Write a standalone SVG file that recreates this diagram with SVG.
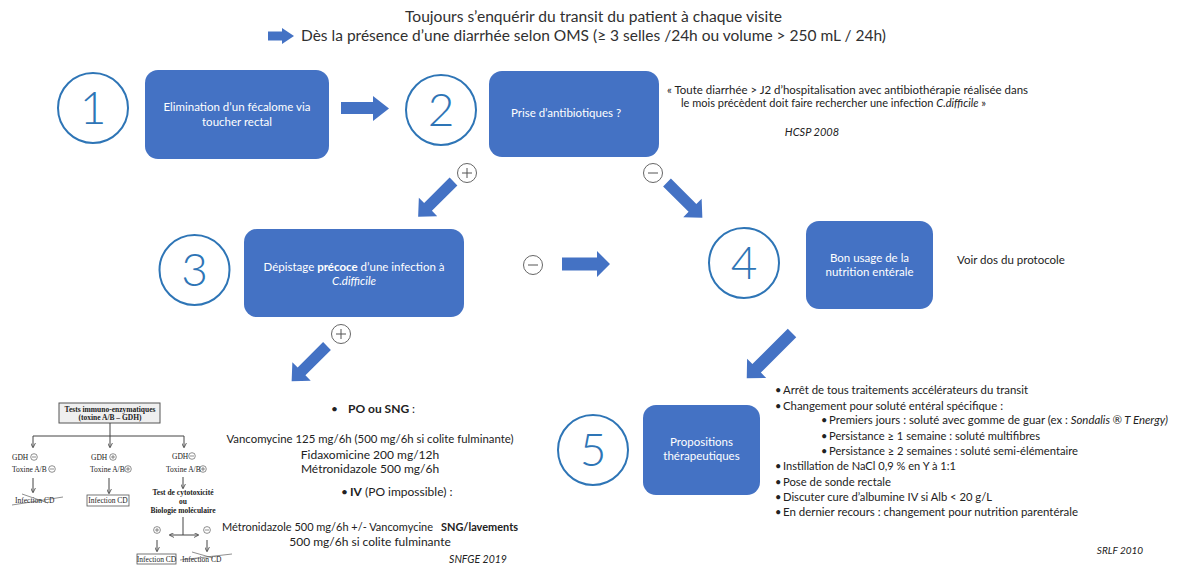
<svg xmlns="http://www.w3.org/2000/svg" width="1177" height="567" viewBox="0 0 1177 567">
<style>
text{font-family:Lato,"Liberation Sans",sans-serif;}
.hdr{font-size:15.5px;fill:#303030;}
.box{fill:#4472C4;}
.bt{font-size:11.5px;fill:#ffffff;text-anchor:middle;}
.ring{fill:none;stroke:#2E75B6;stroke-width:2;}
.num{font-size:46px;fill:#2E75B6;font-weight:300;text-anchor:middle;}
.arr{fill:#4472C4;}
.sign{fill:#ffffff;stroke:#555555;stroke-width:0.9;}
.signl{stroke:#555555;stroke-width:1;}
.t11{font-size:11px;fill:#222222;}
.t12{font-size:12px;fill:#222222;text-anchor:middle;}
.it{font-style:italic;}
.b{font-weight:bold;}
.ser{font-family:"Liberation Serif","Times New Roman",serif;font-size:7.5px;fill:#222222;}
.fl{stroke:#444444;stroke-width:1;fill:none;}
.sc{fill:none;stroke:#444444;stroke-width:0.6;}
</style>
<defs>
<marker id="ah" viewBox="0 0 6 6" refX="5" refY="3" markerWidth="5" markerHeight="5" orient="auto-start-reverse" markerUnits="userSpaceOnUse">
<path d="M0,0 L6,3 L0,6" fill="none" stroke="#444444" stroke-width="1"/>
</marker>
<path id="diag" d="M0,-5.5 H36 V-13 L50,0 L36,13 V5.5 H0 Z"/>
</defs>

<g id="header">
<text class="hdr" x="593.5" y="22" text-anchor="middle" textLength="377" lengthAdjust="spacingAndGlyphs">Toujours s’enquérir du transit du patient à chaque visite</text>
<path class="arr" d="M268,31.5 H282 V28 L294,36 L282,44 V40.5 H268 Z"/>
<text class="hdr" x="301" y="41" textLength="585" lengthAdjust="spacingAndGlyphs">Dès la présence d’une diarrhée selon OMS (≥ 3 selles /24h ou volume &gt; 250 mL / 24h)</text>
</g>

<g id="step1">
<circle class="ring" cx="93" cy="108" r="35"/>
<text class="num" x="93" y="124">1</text>
<rect class="box" x="145" y="70" width="184" height="89" rx="13"/>
<text class="bt" x="237" y="111">Elimination d’un fécalome via</text>
<text class="bt" x="237" y="126">toucher rectal</text>
</g>

<g id="step2">
<circle class="ring" cx="441" cy="110" r="35"/>
<text class="num" x="441" y="126">2</text>
<rect class="box" x="489" y="71" width="170" height="86" rx="13"/>
<text class="bt" x="566" y="117">Prise d’antibiotiques ?</text>
</g>

<g id="quote">
<text class="t11" x="667" y="94" textLength="361" lengthAdjust="spacingAndGlyphs">« Toute diarrhée &gt; J2 d’hospitalisation avec antibiothérapie réalisée dans</text>
<text class="t11" x="681" y="107" textLength="305" lengthAdjust="spacingAndGlyphs">le mois précèdent doit faire rechercher une infection <tspan class="it">C.difficile</tspan> »</text>
<text class="t11 it" x="812" y="136" text-anchor="middle">HCSP 2008</text>
</g>

<g id="step3">
<circle class="ring" cx="194.5" cy="270" r="35"/>
<text class="num" x="194.5" y="286">3</text>
<rect class="box" x="244" y="229" width="220" height="88" rx="13"/>
<text class="bt" x="354" y="271">Dépistage <tspan class="b">précoce</tspan> d’une infection à</text>
<text class="bt it" x="354" y="285">C.difficile</text>
</g>

<g id="step4">
<circle class="ring" cx="744" cy="263" r="35"/>
<text class="num" x="744" y="279">4</text>
<rect class="box" x="806" y="221" width="127" height="88" rx="13"/>
<text class="bt" x="869.5" y="262">Bon usage de la</text>
<text class="bt" x="869.5" y="276">nutrition entérale</text>
<text class="t11" x="957" y="264" style="font-size:11.5px">Voir dos du protocole</text>
</g>

<g id="step5">
<circle class="ring" cx="593" cy="450" r="35"/>
<text class="num" x="593" y="466">5</text>
<rect class="box" x="643" y="405" width="117" height="90" rx="13"/>
<text class="bt" x="701.5" y="446">Propositions</text>
<text class="bt" x="701.5" y="460">thérapeutiques</text>
</g>

<g id="treatments">
<text class="t11" x="775" y="394">•</text>
<text class="t11" x="783" y="394" textLength="245" lengthAdjust="spacingAndGlyphs">Arrêt de tous traitements accélérateurs du transit</text>
<text class="t11" x="775" y="410">•</text>
<text class="t11" x="783" y="410" textLength="220" lengthAdjust="spacingAndGlyphs">Changement pour soluté entéral spécifique :</text>
<text class="t11" x="821" y="424">•</text>
<text class="t11" x="829" y="424" textLength="339" lengthAdjust="spacingAndGlyphs">Premiers jours : soluté avec gomme de guar (ex : <tspan class="it">Sondalis ® T Energy)</tspan></text>
<text class="t11" x="821" y="440">•</text>
<text class="t11" x="829" y="440" textLength="211" lengthAdjust="spacingAndGlyphs">Persistance ≥ 1 semaine : soluté multifibres</text>
<text class="t11" x="821" y="455">•</text>
<text class="t11" x="829" y="455" textLength="249" lengthAdjust="spacingAndGlyphs">Persistance ≥ 2 semaines : soluté semi-élémentaire</text>
<text class="t11" x="775" y="470">•</text>
<text class="t11" x="783" y="470" textLength="173" lengthAdjust="spacingAndGlyphs">Instillation de NaCl 0,9 % en Y à 1:1</text>
<text class="t11" x="775" y="486">•</text>
<text class="t11" x="783" y="486" textLength="108" lengthAdjust="spacingAndGlyphs">Pose de sonde rectale</text>
<text class="t11" x="775" y="501">•</text>
<text class="t11" x="783" y="501" textLength="209" lengthAdjust="spacingAndGlyphs">Discuter cure d’albumine IV si Alb &lt; 20 g/L</text>
<text class="t11" x="775" y="516">•</text>
<text class="t11" x="783" y="516" textLength="295" lengthAdjust="spacingAndGlyphs">En dernier recours : changement pour nutrition parentérale</text>
<text class="t11 it" x="1120" y="554" text-anchor="middle" style="font-size:10px">SRLF 2010</text>
</g>

<g id="antibiotics">
<text class="t12" x="331" y="413" style="text-anchor:start">•</text>
<text class="t12 b" x="348" y="413" style="text-anchor:start">PO ou SNG <tspan font-weight="normal">:</tspan></text>
<text class="t12" x="370" y="443" textLength="287" lengthAdjust="spacingAndGlyphs">Vancomycine 125 mg/6h (500 mg/6h si colite fulminante)</text>
<text class="t12" x="370" y="459">Fidaxomicine 200 mg/12h</text>
<text class="t12" x="370" y="473">Métronidazole 500 mg/6h</text>
<text class="t12" x="341" y="496" style="text-anchor:start">•</text>
<text class="t12" x="350" y="496" style="text-anchor:start"><tspan class="b">IV</tspan> (PO impossible) :</text>
<text class="t12" x="222" y="531" style="text-anchor:start;font-size:11.8px" textLength="211" lengthAdjust="spacingAndGlyphs">Métronidazole 500 mg/6h +/- Vancomycine</text>
<text class="t12 b" x="441" y="531" style="text-anchor:start;font-size:11.8px" textLength="77" lengthAdjust="spacingAndGlyphs">SNG/lavements</text>
<text class="t12" x="370" y="546">500 mg/6h si colite fulminante</text>
<text class="t11 it" x="478" y="563" text-anchor="middle" style="font-size:10.5px">SNFGE 2019</text>
</g>

<g id="testflow">
<rect x="59" y="403" width="101" height="20" fill="#efefef" stroke="#555555" stroke-width="1"/>
<text class="ser b" x="110" y="411.5" text-anchor="middle">Tests immuno-enzymatiques</text>
<text class="ser b" x="110" y="420" text-anchor="middle">(toxine A/B – GDH)</text>
<line class="fl" x1="110" y1="423" x2="110" y2="447" marker-end="url(#ah)"/>
<polyline class="fl" points="33,447 33,436 184,436 184,447" marker-start="url(#ah)" marker-end="url(#ah)"/>

<text class="ser" x="12" y="459.5">GDH</text>
<circle class="sc" cx="34" cy="457" r="3.3"/><line class="sc" x1="32" y1="457" x2="36" y2="457"/>
<text class="ser" x="12" y="471.5">Toxine A/B</text>
<circle class="sc" cx="52" cy="469" r="3.3"/><line class="sc" x1="50" y1="469" x2="54" y2="469"/>
<line class="fl" x1="33" y1="478" x2="33" y2="492" marker-end="url(#ah)"/>
<text class="ser" x="15" y="502.5">Infection CD</text>
<line class="sc" x1="12" y1="505" x2="63" y2="497" stroke-width="0.9"/>
<line class="sc" x1="22" y1="494" x2="48" y2="503" stroke-width="0.9"/>

<text class="ser" x="91" y="459.5">GDH</text>
<circle class="sc" cx="113" cy="457" r="3.3"/><line class="sc" x1="111" y1="457" x2="115" y2="457"/><line class="sc" x1="113" y1="455" x2="113" y2="459"/>
<text class="ser" x="90" y="471.5">Toxine A/B</text>
<circle class="sc" cx="128" cy="469" r="3.3"/><line class="sc" x1="126" y1="469" x2="130" y2="469"/><line class="sc" x1="128" y1="467" x2="128" y2="471"/>
<line class="fl" x1="109" y1="478" x2="109" y2="493" marker-end="url(#ah)"/>
<rect x="87" y="495" width="42" height="11" fill="#ffffff" stroke="#555555" stroke-width="0.8"/>
<text class="ser" x="108" y="503" text-anchor="middle">Infection CD</text>

<text class="ser" x="172" y="458.5">GDH</text>
<circle class="sc" cx="192" cy="456" r="3.3"/><line class="sc" x1="190" y1="456" x2="194" y2="456"/>
<text class="ser" x="166" y="471.5">Toxine A/B</text>
<circle class="sc" cx="203" cy="469" r="3.3"/><line class="sc" x1="201" y1="469" x2="205" y2="469"/><line class="sc" x1="203" y1="467" x2="203" y2="471"/>
<line class="fl" x1="183" y1="477" x2="183" y2="488" marker-end="url(#ah)"/>
<text class="ser b" x="183" y="494.5" text-anchor="middle">Test de cytotoxicité</text>
<text class="ser b" x="183" y="504" text-anchor="middle">ou</text>
<text class="ser b" x="183" y="512.5" text-anchor="middle">Biologie moléculaire</text>
<line class="fl" x1="183" y1="517" x2="183" y2="535"/>
<line class="fl" x1="170" y1="535" x2="198" y2="535" marker-start="url(#ah)" marker-end="url(#ah)"/>
<circle class="sc" cx="157" cy="530" r="3.4"/><line class="sc" x1="155" y1="530" x2="159" y2="530"/><line class="sc" x1="157" y1="528" x2="157" y2="532"/>
<circle class="sc" cx="207" cy="530" r="3.4"/><line class="sc" x1="205" y1="530" x2="209" y2="530"/>
<line class="fl" x1="157" y1="540" x2="157" y2="551" marker-end="url(#ah)"/>
<line class="fl" x1="207" y1="540" x2="207" y2="551" marker-end="url(#ah)"/>
<rect x="137" y="554" width="39" height="10" fill="#ffffff" stroke="#555555" stroke-width="0.8"/>
<text class="ser" x="156.5" y="561.5" text-anchor="middle">Infection CD</text>
<text class="ser" x="182" y="561.5">Infection CD</text>
<line class="sc" x1="180" y1="560" x2="232" y2="554" stroke-width="0.9"/>
<line class="sc" x1="192" y1="552" x2="213" y2="558" stroke-width="0.9"/>
</g>

<g id="connectors">
<path class="arr" d="M341,102 H373 V96 L389,108.5 L373,121 V114 H341 Z"/>
<path class="arr" d="M562,257.5 H597 V251 L610,264 L597,277 V270.5 H562 Z"/>
<use href="#diag" class="arr" transform="translate(453.5,181.5) rotate(135)"/>
<use href="#diag" class="arr" transform="translate(667,182.5) rotate(45)"/>
<use href="#diag" class="arr" transform="translate(327,346) rotate(135)"/>
<path class="arr" transform="translate(792,333) rotate(135)" d="M0,-6 H50 V-13.5 L64,0 L50,13.5 V6 H0 Z"/>
<circle class="sign" cx="467" cy="173" r="9.5"/>
<path class="signl" d="M462,173 H472 M467,168 V178"/>
<circle class="sign" cx="653" cy="173" r="9.5"/>
<path class="signl" d="M648,173 H658"/>
<circle class="sign" cx="533" cy="265" r="9.5"/>
<path class="signl" d="M528,265 H538"/>
<circle class="sign" cx="341" cy="334" r="9.5"/>
<path class="signl" d="M336,334 H346 M341,329 V339"/>
</g>
</svg>
